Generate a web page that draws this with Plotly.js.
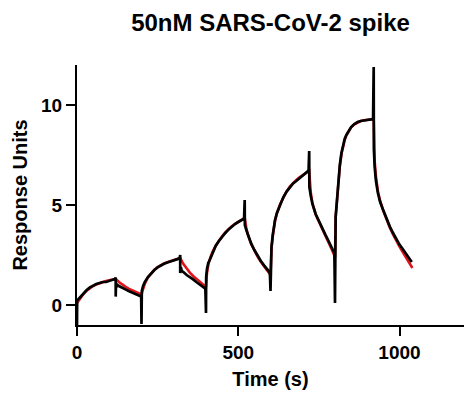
<!DOCTYPE html>
<html>
<head>
<meta charset="utf-8">
<script src="https://cdn.plot.ly/plotly-3.0.1.min.js"></script>
<style>html,body{margin:0;padding:0;background:#fff}#chart{width:464px;height:395px}</style>
</head>
<body>
<div id="chart"></div>
<script>
// Measured sensorgram (black)
const dataTime = [0,0.5,5,10,20,30,40,50,60,70,80,90,100,110,118,120,120,121,123,126,130,140,150,160,170,180,190,199,
  200,201,205,210,220,230,240,250,260,270,280,290,300,310,318,320,320,322,325,330,340,350,360,370,380,390,398,
  400,400.5,403,407,413,420,430,440,450,460,470,480,490,500,510,518,520,520.5,525,530,540,550,560,570,580,590,598,
  600,600.5,603,607,614,620,630,640,650,660,670,680,690,700,710,718,720,720.5,725,730,740,750,760,770,780,790,798,
  800,800.5,802,805,810,815,820,825,830,835,840,850,860,870,880,890,900,910,918,920,920.5,923,927,933,940,950,960,970,980,990,1000,1010,1020,1030,1038];
const dataRU = [-1.0,0.25,0.3,0.4,0.58,0.75,0.88,0.98,1.05,1.1,1.15,1.15,1.2,1.25,1.3,1.37,0.42,1.1,0.9,1.0,0.95,0.85,0.78,0.7,0.62,0.55,0.48,0.42,
  -0.95,0.7,0.95,1.15,1.4,1.6,1.75,1.88,1.98,2.06,2.13,2.18,2.23,2.28,2.33,2.5,1.6,1.9,1.7,1.65,1.5,1.4,1.28,1.15,1.02,0.9,0.82,
  -0.4,1.4,1.8,2.1,2.3,2.6,2.95,3.2,3.42,3.6,3.78,3.92,4.05,4.15,4.25,4.32,5.25,4.0,3.75,3.5,3.08,2.75,2.45,2.2,1.98,1.78,1.62,
  0.7,2.2,2.9,3.5,4.25,4.6,5.05,5.4,5.67,5.9,6.08,6.2,6.35,6.5,6.62,6.72,7.7,5.9,5.45,5.05,4.55,4.18,3.85,3.52,3.2,2.85,2.6,
  0.1,3.3,4.4,5.0,6.3,7.0,7.6,8.0,8.3,8.5,8.65,8.9,9.05,9.15,9.2,9.22,9.25,9.27,9.3,11.9,7.8,6.9,6.2,5.6,5.15,4.72,4.3,3.92,3.6,3.28,3.02,2.8,2.55,2.35,2.15];

// Kinetic fit (red)
const fitTime = [0,10,20,30,40,50,60,70,80,90,100,110,120,130,140,150,160,170,180,190,200,
  205,210,220,230,240,250,260,270,280,290,300,310,320,330,340,350,360,370,380,390,400,
  403,407,413,420,430,440,450,460,470,480,490,500,510,520,525,530,540,550,560,570,580,590,600,
  603,607,614,620,630,640,650,660,670,680,690,700,710,720,725,730,740,750,760,770,780,790,800,
  802,805,810,815,820,825,830,835,840,850,860,870,880,890,900,910,920,923,927,933,940,950,960,970,980,990,1000,1010,1020,1030,1040];
const fitRU = [0.1,0.35,0.55,0.72,0.85,0.95,1.03,1.1,1.15,1.2,1.24,1.27,1.3,1.15,1.02,0.92,0.82,0.74,0.66,0.59,0.53,
  0.8,1.05,1.38,1.6,1.77,1.9,2.0,2.08,2.14,2.2,2.25,2.3,2.35,2.05,1.82,1.62,1.45,1.3,1.15,1.02,0.9,
  1.6,2.0,2.35,2.65,2.97,3.22,3.44,3.63,3.8,3.94,4.06,4.17,4.27,4.36,3.85,3.5,3.05,2.72,2.42,2.16,1.93,1.7,1.5,
  2.8,3.45,4.2,4.6,5.05,5.4,5.68,5.92,6.1,6.25,6.38,6.5,6.6,6.7,5.6,5.1,4.52,4.15,3.8,3.47,3.13,2.78,2.4,
  4.4,5.0,6.2,6.95,7.55,7.95,8.25,8.47,8.63,8.88,9.03,9.13,9.2,9.24,9.27,9.29,9.3,7.2,6.4,5.7,5.2,4.7,4.27,3.88,3.53,3.2,2.92,2.65,2.4,2.15,1.85];

const titleText = '50nM SARS-CoV-2 spike';
const xTitle = 'Time (s)';
const yTitle = 'Response Units';
const xTicks = [0, 500, 1000];
const yTicks = [0, 5, 10];

const FONT = 'Liberation Sans, Arial, Helvetica, sans-serif';

const traces = [
  {x: fitTime, y: fitRU, mode: 'lines', line: {color: '#e0141e', width: 2.6}, hoverinfo: 'skip', showlegend: false},
  {x: dataTime, y: dataRU, mode: 'lines', line: {color: '#000000', width: 2.7}, hoverinfo: 'skip', showlegend: false}
];

const layout = {
  width: 464, height: 395,
  margin: {l: 77, r: 0, t: 65, b: 70, pad: 0},
  paper_bgcolor: '#ffffff', plot_bgcolor: '#ffffff',
  showlegend: false,
  font: {family: FONT, color: '#000000'},
  title: {text: titleText, font: {family: FONT, size: 24, weight: 'bold', color: '#000'},
          x: 0.5, xref: 'paper', xanchor: 'center', y: 0.944, yref: 'container', yanchor: 'middle'},
  xaxis: {
    range: [0, 1200], tickmode: 'array', tickvals: xTicks, ticktext: xTicks.map(String),
    showgrid: false, zeroline: false, showline: true, linecolor: '#000', linewidth: 2,
    ticks: 'outside', ticklen: 9, tickwidth: 2, tickcolor: '#000',
    tickfont: {family: FONT, size: 19, weight: 'bold', color: '#000'},
    title: {text: xTitle, font: {family: FONT, size: 20, weight: 'bold', color: '#000'}, standoff: 10},
    fixedrange: true
  },
  yaxis: {
    range: [-1, 12], tickmode: 'array', tickvals: yTicks, ticktext: yTicks.map(String),
    showgrid: false, zeroline: false, showline: true, linecolor: '#000', linewidth: 2,
    ticks: 'outside', ticklen: 9, tickwidth: 2, tickcolor: '#000',
    tickfont: {family: FONT, size: 19, weight: 'bold', color: '#000'},
    title: {text: yTitle, font: {family: FONT, size: 20, weight: 'bold', color: '#000'}, standoff: 8},
    fixedrange: true
  }
};

Plotly.newPlot('chart', traces, layout, {staticPlot: true, displayModeBar: false});
</script>
</body>
</html>
